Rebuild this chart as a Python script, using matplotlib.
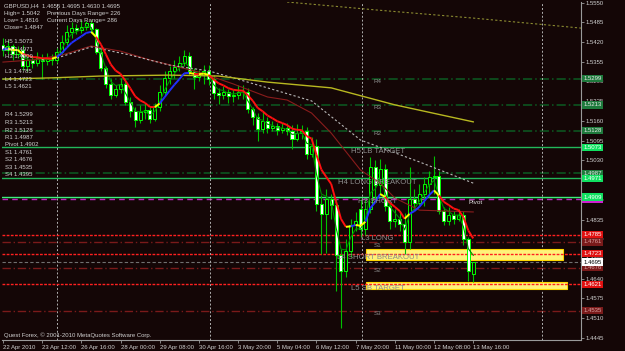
import numpy as np
import pandas as pd
import matplotlib
matplotlib.use('Agg')
import matplotlib.pyplot as plt
from matplotlib import font_manager
from matplotlib.collections import LineCollection
from matplotlib.patches import Rectangle

# GBPUSD H4 bars, 22 Apr 2010 04:00 .. 13 May 2010 16:00
opens = [1.5411, 1.5395, 1.5408, 1.5379, 1.5395, 1.5342, 1.5362, 1.5352, 1.5369, 1.5356,
         1.5365, 1.5362, 1.5388, 1.5421, 1.5454, 1.5467, 1.5461, 1.5470, 1.5484, 1.5464,
         1.5388, 1.5336, 1.5283, 1.5247, 1.5264, 1.5283, 1.5224, 1.5192, 1.5162, 1.5188,
         1.5195, 1.5165, 1.5205, 1.5254, 1.5300, 1.5323, 1.5339, 1.5352, 1.5375, 1.5323,
         1.5306, 1.5310, 1.5323, 1.5297, 1.5251, 1.5247, 1.5257, 1.5241, 1.5247, 1.5254,
         1.5257, 1.5198, 1.5172, 1.5133, 1.5159, 1.5136, 1.5142, 1.5129, 1.5136, 1.5126,
         1.5100, 1.5119, 1.5126, 1.5051, 1.5077, 1.4887, 1.4854, 1.4903, 1.4883, 1.4719,
         1.4667, 1.4732, 1.4818, 1.4870, 1.4805, 1.4870, 1.5008, 1.4949, 1.5001, 1.4880,
         1.4831, 1.4837, 1.4821, 1.4762, 1.4903, 1.4890, 1.4919, 1.4952, 1.4975, 1.4978,
         1.4863, 1.4831, 1.4851, 1.4837, 1.4851, 1.4772, 1.4656]
highs = [1.5434, 1.5428, 1.5415, 1.5408, 1.5411, 1.5379, 1.5375, 1.5388, 1.5379, 1.5385,
         1.5379, 1.5402, 1.5444, 1.5477, 1.5487, 1.5480, 1.5493, 1.5490, 1.5493, 1.5467,
         1.5402, 1.5342, 1.5297, 1.5280, 1.5303, 1.5303, 1.5238, 1.5205, 1.5211, 1.5218,
         1.5205, 1.5218, 1.5277, 1.5323, 1.5342, 1.5362, 1.5375, 1.5395, 1.5388, 1.5336,
         1.5329, 1.5346, 1.5346, 1.5310, 1.5270, 1.5274, 1.5264, 1.5264, 1.5280, 1.5277,
         1.5270, 1.5205, 1.5185, 1.5192, 1.5172, 1.5159, 1.5152, 1.5152, 1.5152, 1.5146,
         1.5149, 1.5146, 1.5139, 1.5106, 1.5100, 1.4916, 1.4936, 1.4919, 1.4903, 1.4739,
         1.4772, 1.4837, 1.4860, 1.4903, 1.4903, 1.5041, 1.5030, 1.5034, 1.5018, 1.4887,
         1.4870, 1.4863, 1.4857, 1.5008, 1.4936, 1.4952, 1.4975, 1.4995, 1.5044, 1.4995,
         1.4877, 1.4877, 1.4863, 1.4870, 1.4863, 1.4778, 1.4695]
lows = [1.5375, 1.5379, 1.5362, 1.5369, 1.5329, 1.5323, 1.5336, 1.5342, 1.5297, 1.5346,
        1.5346, 1.5352, 1.5379, 1.5411, 1.5434, 1.5447, 1.5451, 1.5460, 1.5454, 1.5379,
        1.5323, 1.5270, 1.5231, 1.5238, 1.5251, 1.5211, 1.5172, 1.5139, 1.5152, 1.5165,
        1.5152, 1.5159, 1.5192, 1.5244, 1.5283, 1.5303, 1.5323, 1.5342, 1.5310, 1.5264,
        1.5290, 1.5283, 1.5277, 1.5231, 1.5215, 1.5231, 1.5218, 1.5224, 1.5231, 1.5231,
        1.5185, 1.5146, 1.5093, 1.5119, 1.5119, 1.5126, 1.5113, 1.5119, 1.5113, 1.5067,
        1.5093, 1.5100, 1.5034, 1.5041, 1.4863, 1.4723, 1.4726, 1.4837, 1.4598, 1.4477,
        1.4647, 1.4713, 1.4798, 1.4778, 1.4785, 1.4857, 1.4903, 1.4916, 1.4863, 1.4805,
        1.4811, 1.4798, 1.4723, 1.4739, 1.4863, 1.4883, 1.4880, 1.4910, 1.4919, 1.4854,
        1.4818, 1.4818, 1.4821, 1.4831, 1.4752, 1.4634, 1.4630]
closes = [1.5395, 1.5408, 1.5379, 1.5395, 1.5342, 1.5362, 1.5352, 1.5369, 1.5356, 1.5365,
          1.5362, 1.5388, 1.5421, 1.5454, 1.5467, 1.5461, 1.5470, 1.5484, 1.5464, 1.5388,
          1.5336, 1.5283, 1.5247, 1.5264, 1.5283, 1.5224, 1.5192, 1.5162, 1.5188, 1.5195,
          1.5165, 1.5205, 1.5254, 1.5300, 1.5323, 1.5339, 1.5352, 1.5375, 1.5323, 1.5306,
          1.5310, 1.5323, 1.5297, 1.5251, 1.5247, 1.5257, 1.5241, 1.5247, 1.5254, 1.5257,
          1.5198, 1.5172, 1.5133, 1.5159, 1.5136, 1.5142, 1.5129, 1.5136, 1.5126, 1.5100,
          1.5119, 1.5126, 1.5051, 1.5077, 1.4887, 1.4854, 1.4903, 1.4883, 1.4719, 1.4667,
          1.4732, 1.4818, 1.4831, 1.4805, 1.4870, 1.5008, 1.4949, 1.5001, 1.4880, 1.4831,
          1.4837, 1.4821, 1.4762, 1.4903, 1.4890, 1.4919, 1.4952, 1.4975, 1.4978, 1.4863,
          1.4831, 1.4851, 1.4837, 1.4851, 1.4772, 1.4667, 1.4695]

# slow moving averages, read at a few bars
yellow_ma_bars = [0, 10, 20, 34, 44, 54, 67, 80, 96]
yellow_ma_vals = [1.5298, 1.5302, 1.5308, 1.5311, 1.5308, 1.5288, 1.5269, 1.5213, 1.5157]
maroon_ma_bars = [0, 6, 12, 18, 24, 30, 40, 47, 54, 58, 63, 67, 73, 77, 80, 85, 96]
maroon_ma_vals = [1.5354, 1.5361, 1.5377, 1.5407, 1.5390, 1.5361, 1.5321, 1.5282, 1.5239,
                  1.5229, 1.5186, 1.5120, 1.4998, 1.4955, 1.4906, 1.4866, 1.4860]
gray_ma_bars = [11, 18, 26, 34, 42, 47, 54, 63, 73, 85, 96]
gray_ma_vals = [1.5367, 1.5404, 1.5377, 1.5344, 1.5325, 1.5302, 1.5269, 1.5226, 1.5097,
                1.5025, 1.4955]
olive_ma_bars = [58, 76, 96, 118]
olive_ma_vals = [1.5552, 1.5526, 1.5499, 1.5466]

# pivot points and camarilla levels
pivot_names = ['R4', 'R3', 'R2', 'R1', 'Pivot', 'S1', 'S2', 'S3', 'S4']
pivot_vals = [1.5299, 1.5213, 1.5128, 1.4987, 1.4902, 1.4761, 1.4676, 1.4535, 1.4395]
cam_names = ['H5', 'H4', 'H3', 'L3', 'L4', 'L5']
cam_vals = [1.5073, 1.4971, 1.4909, 1.4785, 1.4723, 1.4621]
bid = 1.4695

zone_lo = [1.4702, 1.4606]
zone_hi = [1.4738, 1.4629]
zone_from = [74.1, 74.1]
zone_to = [114.3, 115.1]

separator_bars = [11.0, 42.2, 73.2, 110.0]

tick_bars = [0, 8, 16, 24, 32, 40, 48, 56, 64, 72, 80, 88, 96]
tick_labels = ['22 Apr 2010', '23 Apr 12:00', '26 Apr 16:00', '28 Apr 00:00', '29 Apr 08:00',
               '30 Apr 16:00', '3 May 20:00', '5 May 04:00', '6 May 12:00', '7 May 20:00',
               '11 May 00:00', '12 May 08:00', '13 May 16:00']
price_ticks = [1.4445, 1.4510, 1.4575, 1.4640, 1.4705, 1.4770, 1.4835, 1.4900, 1.4965,
               1.5030, 1.5095, 1.5160, 1.5225, 1.5290, 1.5355, 1.5420, 1.5485, 1.5550]

names = {f.name for f in font_manager.fontManager.ttflist}
if 'Liberation Sans Narrow' in names:
    FONT = 'Liberation Sans Narrow'
else:
    FONT = 'Liberation Sans'
plt.rcParams['font.family'] = [FONT, 'DejaVu Sans']

BG = '#140606'
FG = '#d0d0d0'
SMALL = 4.3

fig = plt.figure(figsize=(6.25, 3.51), dpi=100)
fig.patch.set_facecolor(BG)
ax = fig.add_axes([2 / 625., 11 / 351., 579 / 625., 338 / 351.])
ax.set_facecolor(BG)
ax.set_xlim(-0.2, 118.0)
ax.set_ylim(1.4438, 1.5552)

# levels
for name, v in zip(pivot_names, pivot_vals):
    if name == 'Pivot':
        ax.axhline(v, color='#c020c0', lw=1.0, ls=(0, (4, 3)), zorder=1)
    elif name.startswith('R'):
        ax.axhline(v, color='#0c5c22', lw=1.1, ls=(0, (6, 2, 1, 2)), zorder=1)
    else:
        ax.axhline(v, color='#7a1a1a', lw=1.0, ls=(0, (6, 2, 1, 2)), zorder=1)
for name, v in zip(cam_names, cam_vals):
    if name == 'H3':
        ax.axhline(v, color='#3cf07c', lw=1.0, zorder=1)
    elif name.startswith('H'):
        ax.axhline(v, color='#22b85a', lw=1.0, zorder=1)
    else:
        ax.axhline(v, color='#ff2020', lw=1.0, ls=(0, (2, 1)), zorder=1.2)
ax.axhline(bid, color='#707070', lw=0.8, ls=(0, (3, 2)), zorder=1)

for lo, hi, a, b in zip(zone_lo, zone_hi, zone_from, zone_to):
    ax.add_patch(Rectangle((a, lo), b - a, hi - lo, fc='#fff27a', ec='#ffd800',
                           lw=0.8, zorder=1.1))

for s in separator_bars:
    ax.axvline(s, color='#b0b0b0', lw=0.7, ls=(0, (2, 2)), zorder=1)

# candles
x = np.arange(len(closes))
o = np.array(opens)
c = np.array(closes)
h = np.array(highs)
l = np.array(lows)
ax.vlines(x, l, h, color='#00c000', lw=0.8, zorder=2)
up = c >= o
blo = np.minimum(o, c)
bh = np.maximum(np.abs(c - o), 0.00012)
ax.bar(x[up], bh[up], bottom=blo[up], width=0.62, color=BG, edgecolor='#00ff00',
       lw=0.7, zorder=2.5)
ax.bar(x[~up], bh[~up], bottom=blo[~up], width=0.62, color='white', edgecolor='#00ff00',
       lw=0.7, zorder=2.5)

# moving averages
cs = pd.Series(closes)
fast = cs.ewm(span=3, adjust=False).mean()
ax.plot(x, fast, color='#008a00', lw=0.8, zorder=3)
ax.plot(maroon_ma_bars, maroon_ma_vals, color='#8a1c1c', lw=0.8, zorder=3)
ax.plot(gray_ma_bars, gray_ma_vals, color='#b8b8b8', lw=0.8, ls=(0, (2, 2)), zorder=3)
ax.plot(yellow_ma_bars, yellow_ma_vals, color='#b8b820', lw=1.0, zorder=3)
ax.plot(olive_ma_bars, olive_ma_vals, color='#8a8a30', lw=0.8, ls=(0, (2, 2)), zorder=3)

mid = cs.ewm(span=7, adjust=False).mean().values
pts = np.column_stack([x, mid])
segs = np.stack([pts[:-1], pts[1:]], axis=1)
cols = []
prev = None
for d in np.diff(mid):
    rising = d >= 0
    if prev is not None and rising != prev:
        cols.append('#ffff00')
    else:
        cols.append('#2030ff' if rising else '#ff1010')
    prev = rising
ax.add_collection(LineCollection(segs, colors=cols, linewidths=1.4, zorder=3.2))

# line captions
captions = [('R4', 1.5299), ('R3', 1.5213), ('R2', 1.5128), ('H5 LB TARGET', 1.5073),
            ('H4 LONG BREAKOUT', 1.4971), ('H3 SHORT', 1.4909), ('L3 LONG', 1.4785),
            ('S1', 1.4761), ('L4 SHORT BREAKOUT', 1.4723), ('S2', 1.4676),
            ('L5 SB TARGET', 1.4621), ('S3', 1.4535)]
for txt, v in captions:
    fs = 4.5 if len(txt) <= 2 else 5.6
    ax.text(76.5, v - 0.0002, txt, color='#8c8c8c', fontsize=fs, ha='center', va='top',
            zorder=4)
ax.text(96.5, 1.4902 - 0.0004, 'Pivot', color='#e0e0e0', fontsize=4.6, ha='center',
        va='top', zorder=4)

# axes look
for sp in ['left', 'top']:
    ax.spines[sp].set_visible(False)
for sp in ['right', 'bottom']:
    ax.spines[sp].set_color('#9a9a9a')
    ax.spines[sp].set_linewidth(0.8)
ax.yaxis.tick_right()
ax.set_yticks(price_ticks)
ax.set_yticklabels(['%.4f' % p for p in price_ticks])
ax.set_xticks(tick_bars)
ax.set_xticklabels(tick_labels)
ax.tick_params(axis='both', colors='#9a9a9a', labelcolor=FG, labelsize=SMALL, length=2,
               width=0.6, pad=1.5)
for lbl in ax.get_xticklabels():
    lbl.set_ha('left')

# price boxes on the right axis
def box(v, fc, tc):
    ax.annotate('%.4f' % v, xy=(1.0, v), xycoords=('axes fraction', 'data'),
                xytext=(1.5, 0), textcoords='offset points', ha='left', va='center',
                fontsize=SMALL, color=tc, zorder=6, annotation_clip=False,
                bbox=dict(boxstyle='square,pad=0.2', fc=fc, ec='none'))

for name, v in zip(pivot_names, pivot_vals):
    if v < 1.4438:
        continue
    if name == 'Pivot':
        box(v, '#d020d0', 'white')
    elif name.startswith('R'):
        box(v, '#1e7a3c', '#e8e8e8')
    else:
        box(v, '#7a1a1a', '#d8a0a0')
for name, v in zip(cam_names, cam_vals):
    if name.startswith('H'):
        box(v, '#10e060', 'white')
    else:
        box(v, '#e01010', 'white')
box(bid, 'white', 'black')

# info texts
info_left = ['GBPUSD,H4  1.4656 1.4695 1.4630 1.4695', 'High= 1.5042', 'Low= 1.4816',
             'Close= 1.4847']
info_right = ['', 'Previous Days Range= 226', 'Current Days Range= 286', '']
for k, (a, b) in enumerate(zip(info_left, info_right)):
    yy = 1 - (6 + 7.2 * k) / 351.
    fig.text(4 / 625., yy, a, color=FG, fontsize=SMALL, va='center')
    if b:
        fig.text(47 / 625., yy, b, color=FG, fontsize=SMALL, va='center')

levels_left = [('H5 1.5073', 41.7), ('H4 1.4971', 49.2), ('H3 1.4909', 56.7),
               ('L3 1.4785', 71.7), ('L4 1.4723', 79.2), ('L5 1.4621', 86.7),
               ('R4 1.5299', 115), ('R3 1.5213', 122.5), ('R2 1.5128', 130),
               ('R1 1.4987', 137.5), ('Pivot 1.4902', 145), ('S1 1.4761', 152.4),
               ('S2 1.4676', 159.8), ('S3 1.4535', 167.2), ('S4 1.4395', 174.6)]
for txt, py in levels_left:
    fig.text(5 / 625., 1 - py / 351., txt, color=FG, fontsize=SMALL, va='center', zorder=5)

fig.text(4 / 625., 1 - 335 / 351., 'Quest Forex, \u00a9 2001-2010 MetaQuotes Software Corp.',
         color=FG, fontsize=SMALL, va='center')

fig.savefig('out.png', dpi=100, facecolor=BG)
